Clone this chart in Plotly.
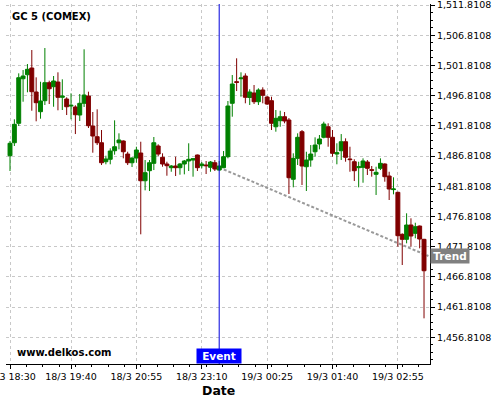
import plotly.graph_objects as go

# 5-minute candles, GC 5 (COMEX)
opens = [
    1486.86, 1489.01, 1492.23, 1499.61, 1500.27, 1501.38, 1497.41, 1494.15, 1495.97, 1498.95,
    1498.29, 1499.06, 1496.53, 1496.25, 1495.09, 1494.93, 1493.60, 1495.54, 1496.75, 1491.78,
    1490.01, 1489.01, 1485.87, 1486.27, 1487.69, 1489.01, 1489.30, 1487.14, 1485.70, 1486.48,
    1487.31, 1482.72, 1484.38, 1485.60, 1488.47, 1486.60, 1485.49, 1484.88, 1485.16, 1484.88,
    1485.49, 1485.99, 1486.15, 1486.98, 1485.21, 1485.32, 1484.94, 1485.70, 1484.49, 1484.88,
    1486.70, 1495.54, 1499.11, 1499.61, 1500.06, 1496.50, 1497.24, 1495.80, 1497.74, 1496.58,
    1495.97, 1491.66, 1492.66, 1493.32, 1492.77, 1482.96, 1486.43, 1490.84, 1485.04, 1486.15,
    1487.52, 1488.80, 1489.91, 1491.66, 1489.91, 1487.14, 1487.69, 1489.18, 1486.32, 1485.87,
    1484.88, 1484.94, 1485.82, 1484.55, 1483.78, 1484.78, 1485.49, 1483.50, 1481.25, 1480.80,
    1473.85, 1473.02, 1475.39, 1474.01, 1475.22, 1473.02,
]
highs = [
    1489.30, 1492.89, 1500.50, 1501.05, 1502.04, 1504.36, 1499.84, 1499.11, 1504.69, 1499.28,
    1500.06, 1500.67, 1499.51, 1496.53, 1497.19, 1495.21, 1497.08, 1504.48, 1497.46, 1494.10,
    1494.54, 1491.12, 1486.86, 1488.09, 1492.72, 1490.57, 1489.40, 1487.52, 1486.60, 1488.35,
    1489.18, 1486.15, 1486.15, 1489.96, 1488.75, 1487.26, 1485.87, 1485.32, 1486.70, 1485.65,
    1486.15, 1488.92, 1486.43, 1487.05, 1485.82, 1485.99, 1485.99, 1486.15, 1485.99, 1487.64,
    1495.92, 1500.22, 1502.99, 1500.67, 1500.50, 1497.86, 1498.57, 1498.02, 1498.19, 1496.75,
    1496.63, 1494.43, 1494.31, 1494.10, 1493.10, 1487.26, 1490.57, 1491.12, 1487.52, 1488.63,
    1489.91, 1490.29, 1492.49, 1492.23, 1491.12, 1488.92, 1490.45, 1489.74, 1488.35, 1486.27,
    1485.87, 1486.43, 1486.15, 1485.16, 1485.04, 1486.43, 1485.60, 1484.21, 1483.29, 1480.90,
    1474.01, 1477.33, 1476.50, 1475.77, 1475.30, 1473.10,
]
lows = [
    1484.33, 1488.47, 1491.78, 1495.80, 1497.36, 1494.31, 1492.56, 1492.99, 1495.26, 1495.42,
    1494.97, 1494.38, 1494.43, 1493.60, 1492.89, 1490.45, 1492.61, 1494.93, 1491.45, 1487.36,
    1488.63, 1485.32, 1485.44, 1485.44, 1487.03, 1487.92, 1486.43, 1485.32, 1484.99, 1485.70,
    1473.85, 1481.13, 1481.02, 1484.49, 1486.81, 1485.04, 1483.55, 1484.21, 1483.50, 1483.72,
    1483.78, 1484.33, 1483.39, 1484.33, 1484.78, 1483.83, 1484.21, 1484.33, 1484.41, 1484.80,
    1486.43, 1493.32, 1497.57, 1496.63, 1495.54, 1495.26, 1495.42, 1495.26, 1495.54, 1495.26,
    1491.12, 1490.84, 1491.66, 1492.23, 1480.52, 1481.63, 1485.32, 1482.01, 1481.02, 1485.04,
    1486.70, 1487.92, 1489.74, 1488.35, 1486.70, 1485.44, 1486.15, 1485.87, 1484.21, 1482.67,
    1481.63, 1482.39, 1483.67, 1483.39, 1480.36, 1484.49, 1482.56, 1479.53, 1480.47, 1471.80,
    1468.77, 1472.36, 1471.80, 1473.19, 1471.53, 1459.94,
]
closes = [
    1488.92, 1492.06, 1499.78, 1500.06, 1501.17, 1497.46, 1495.64, 1495.92, 1498.95, 1497.95,
    1499.23, 1496.53, 1496.75, 1494.97, 1495.21, 1493.65, 1495.54, 1496.91, 1491.83, 1490.12,
    1489.01, 1485.70, 1486.32, 1487.64, 1488.35, 1489.46, 1487.52, 1485.70, 1486.48, 1487.81,
    1482.72, 1484.05, 1485.70, 1489.01, 1487.14, 1485.49, 1485.21, 1485.16, 1484.88, 1485.49,
    1485.99, 1486.27, 1486.37, 1484.88, 1485.49, 1485.21, 1485.82, 1484.66, 1485.16, 1486.70,
    1495.09, 1498.73, 1499.01, 1499.73, 1496.53, 1497.41, 1495.80, 1497.74, 1496.86, 1495.42,
    1492.23, 1493.05, 1493.32, 1492.61, 1483.22, 1486.43, 1489.91, 1485.16, 1486.15, 1487.14,
    1488.63, 1489.63, 1492.11, 1489.91, 1487.26, 1487.36, 1489.18, 1486.60, 1486.22, 1484.38,
    1485.04, 1485.99, 1484.78, 1484.45, 1484.11, 1485.60, 1483.39, 1481.35, 1481.35, 1473.62,
    1473.02, 1475.39, 1473.57, 1475.11, 1473.07, 1467.82,
]

# posición de cada vela (índice) y etiquetas de tiempo del eje
candle_idx = list(range(len(opens)))
time_tick_idx = [0, 14, 29, 44, 59, 74, 89]
time_tick_labels = [
    "18/3 18:30", "18/3 19:40", "18/3 20:55", "18/3 23:10",
    "19/3 00:25", "19/3 01:40", "19/3 02:55",
]
price_ticks = [
    1456.8108, 1461.8108, 1466.8108, 1471.8108, 1476.8108, 1481.8108,
    1486.8108, 1491.8108, 1496.8108, 1501.8108, 1506.8108, 1511.8108,
]

event_idx = 48
trend_idx = [48, 96]
trend_price = [1484.90, 1470.26]

GREEN = "#008000"
RED = "#800000"
GRID = "#c8c8c8"
FONT = "DejaVu Sans"

fig = go.Figure()
fig.add_trace(
    go.Candlestick(
        x=candle_idx,
        open=opens,
        high=highs,
        low=lows,
        close=closes,
        increasing={"line": {"color": GREEN, "width": 1}, "fillcolor": GREEN},
        decreasing={"line": {"color": RED, "width": 1}, "fillcolor": RED},
        whiskerwidth=0,
        hoverinfo="skip",
    )
)

# línea de tendencia punteada y línea del evento
fig.add_shape(
    type="line", xref="x", yref="y",
    x0=trend_idx[0], y0=trend_price[0], x1=trend_idx[1], y1=trend_price[1],
    line={"color": "#999999", "width": 2, "dash": "3px,2px"},
    layer="between",
)
fig.add_shape(
    type="line", xref="x", yref="paper",
    x0=event_idx, x1=event_idx, y0=0, y1=1,
    line={"color": "#0000dd", "width": 1},
    layer="above",
)

fig.add_annotation(
    text="<b>GC 5 (COMEX)</b>", xref="paper", yref="paper", x=0, y=1,
    xanchor="left", yanchor="top", xshift=4, yshift=-5, showarrow=False,
    font={"family": FONT, "size": 10, "color": "black"},
)
fig.add_annotation(
    text="<b>www.delkos.com</b>", xref="paper", yref="paper", x=0, y=0,
    xanchor="left", yanchor="bottom", xshift=9, yshift=4, showarrow=False,
    font={"family": FONT, "size": 10, "color": "black"},
)
fig.add_annotation(
    text="<b>Event</b>", xref="x", yref="paper", x=event_idx, y=0,
    xanchor="center", yanchor="bottom", showarrow=False,
    bgcolor="#0000ff", width=44, height=14, borderpad=0,
    font={"family": FONT, "size": 10.5, "color": "white"},
)
fig.add_annotation(
    text="<b>Trend</b>", xref="paper", yref="y", x=1, y=trend_price[1],
    xanchor="left", yanchor="middle", showarrow=False,
    bgcolor="#808080", width=38, height=14, borderpad=0,
    font={"family": FONT, "size": 10.5, "color": "white"},
)
fig.add_annotation(
    text="<b>Date</b>", xref="paper", yref="paper", x=0.5, y=0,
    xanchor="center", yanchor="top", yshift=-17, showarrow=False,
    font={"family": FONT, "size": 12.5, "color": "black"},
)

fig.update_layout(
    width=500,
    height=400,
    margin={"l": 6, "r": 70, "t": 4, "b": 36, "autoexpand": False},
    paper_bgcolor="white",
    plot_bgcolor="white",
    showlegend=False,
    boxgap=0.1,
    boxgroupgap=0,
    font={"family": FONT, "size": 9.5, "color": "black"},
)
fig.update_xaxes(
    range=[-0.92, 96.37],
    automargin=False,
    tickmode="array",
    tickvals=time_tick_idx,
    ticktext=time_tick_labels,
    ticklabeloverflow="allow",
    ticks="outside", ticklen=4, tickcolor="black",
    showline=True, linecolor="black", linewidth=1,
    showgrid=True, gridcolor=GRID, griddash="3px,3px",
    zeroline=False,
    rangeslider={"visible": False},
    minor={"tick0": 0, "dtick": 3.75, "ticks": "outside", "ticklen": 2,
           "tickcolor": "black", "showgrid": False},
)
fig.update_yaxes(
    side="right",
    range=[1452.38, 1511.98],
    automargin=False,
    tickmode="array",
    tickvals=price_ticks,
    tickformat=",.4f",
    ticklabeloverflow="allow",
    ticks="outside", ticklen=4, tickcolor="black",
    showline=True, linecolor="black", linewidth=1,
    showgrid=True, gridcolor=GRID, griddash="3px,3px",
    zeroline=False,
    minor={"tick0": 1456.8108, "dtick": 1.25, "ticks": "outside", "ticklen": 2,
           "tickcolor": "black", "showgrid": False},
)

# la página trae el margen por defecto del navegador; se quita para que la
# figura ocupe la ventana entera
fig.write_html(
    "out.html",
    config={"displayModeBar": False},
    post_script="document.body.style.margin = '0';",
)
